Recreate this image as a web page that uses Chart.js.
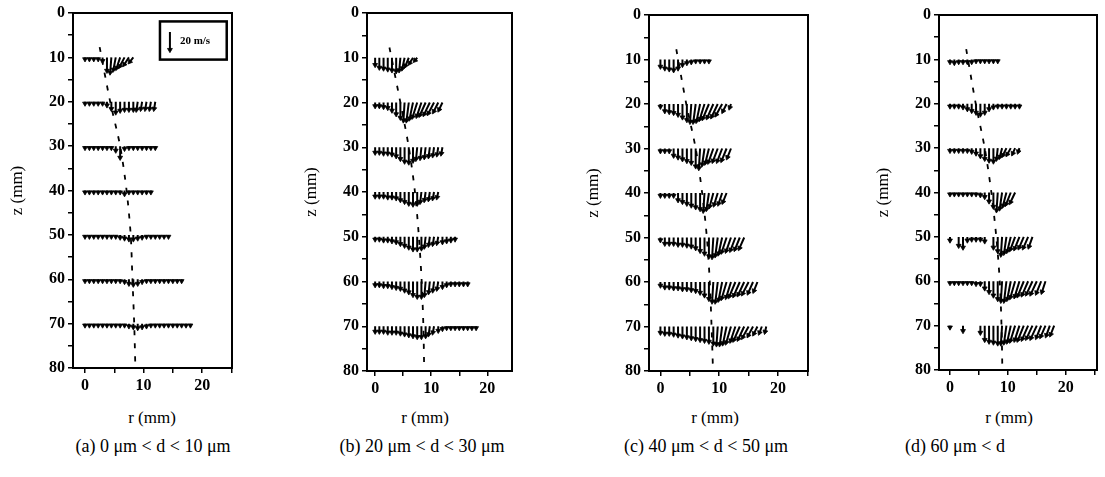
<!DOCTYPE html>
<html>
<head>
<meta charset="utf-8">
<script src="https://cdn.jsdelivr.net/npm/chart.js@4.4.1/dist/chart.umd.min.js"></script>
<style>
  html, body { margin: 0; padding: 0; background: #fff; }
  #fig { position: relative; width: 1105px; height: 477px; overflow: hidden; background: #fff;
         font-family: 'Liberation Serif', 'DejaVu Serif', 'Times New Roman', serif; color: #000; }
  #fig canvas { position: absolute; top: 0; }
  .rlabel, .caption { position: absolute; white-space: nowrap; transform: translate(-50%, -50%); }
  .rlabel { top: 418px; font-size: 17px; }
  .caption { top: 446px; font-size: 18px; }
</style>
</head>
<body>
<div id="fig">
  <canvas id="panelA"></canvas>
  <canvas id="panelB"></canvas>
  <canvas id="panelC"></canvas>
  <canvas id="panelD"></canvas>

  <div class="rlabel" style="left:152px">r (mm)</div>
  <div class="rlabel" style="left:425px">r (mm)</div>
  <div class="rlabel" style="left:715px">r (mm)</div>
  <div class="rlabel" style="left:1009px">r (mm)</div>

  <div class="caption" style="left:153px">(a) 0 μm &lt; d &lt; 10 μm</div>
  <div class="caption" style="left:422px">(b) 20 μm &lt; d &lt; 30 μm</div>
  <div class="caption" style="left:706px">(c) 40 μm &lt; d &lt; 50 μm</div>
  <div class="caption" style="left:955px">(d) 60 μm &lt; d</div>
</div>

<script>
/* ---------- measurement grid ---------- */
// radial measuring stations (mm) and axial measuring planes (mm)
const radialStations = [0, 0.75, 1.5, 2.25, 3, 3.75, 4.5, 5.25, 6, 6.75, 7.5, 8.25, 9,
  9.75, 10.5, 11.25, 12, 12.75, 13.5, 14.25, 15, 15.75, 16.5, 17.25, 18];
const rowLevels = [10, 20, 30, 40, 50, 60, 70];
const rTicks = [0, 5, 10, 15, 20, 25];
const zTicks = [0, 5, 10, 15, 20, 25, 30, 35, 40, 45, 50, 55, 60, 65, 70, 75, 80];

// vector scale : 20 m/s is drawn as 4 mm
const mmPerMs = 0.2;
const keyVelocity = 20;

/* ---------- droplet velocities (m/s), one list per plane ---------- */
// (a) 0 - 10 um
const axialA = [
  [2, 2, 2, 2, 4, 15, 17, 14, 12, 10, 8, 5],
  [2, 2, 2, 2, 2, 4, 8, 12, 10, 9, 9, 9, 9, 8, 8, 8, 8],
  [2, 2, 2, 2, 2, 2, 2, 5, 13, 3, 2, 2, 2, 2, 2, 2, 2],
  [2, 2, 2, 2, 2, 2, 2, 2, 2, 4, 2, 2, 2, 2, 2, 2],
  [2, 2, 2, 2, 2, 2, 2, 2, 3, 4, 5, 5, 4, 3, 2, 2, 2, 2, 2, 2],
  [2, 2, 2, 2, 2, 2, 2, 2, 2, 3, 5, 6, 5, 3, 2, 2, 2, 2, 2, 2, 2, 2, 2],
  [2, 2, 2, 2, 2, 2, 2, 2, 2, 2, 3, 4, 5, 4, 3, 2, 2, 2, 2, 2, 2, 2, 2, 2, 2]
];
const radialA = [
  [0, 0, 0, 0, 0, 0, -1, -2, -3, -4, -4, -3],
  [0, 0, 0, 0, 0, 0, 0, 0, 0, 0, 0, 0, -1, -1, -1, -1, -1],
  [0, 0, 0, 0, 0, 0, 0, 0, 0, 0, 0, 0, 0, 0, 0, 0, 0],
  [0, 0, 0, 0, 0, 0, 0, 0, 0, 0, 0, 0, 0, 0, 0, 0],
  [0, 0, 0, 0, 0, 0, 0, 0, 0, 0, 0, 0, 0, 0, 0, 0, 0, 0, 0, 0],
  [0, 0, 0, 0, 0, 0, 0, 0, 0, 0, 0, 0, 0, 0, 0, 0, 0, 0, 0, 0, 0, 0, 0],
  [0, 0, 0, 0, 0, 0, 0, 0, 0, 0, 0, 0, 0, 0, 0, 0, 0, 0, 0, 0, 0, 0, 0, 0, 0]
];

// (b) 20 - 30 um
const axialB = [
  [8, 11, 12, 13, 14, 15, 14, 12, 9, 6, 3],
  [4, 4, 5, 6, 9, 13, 17, 20, 20, 18, 16, 15, 14, 13, 12, 10, 8],
  [6, 6, 7, 7, 8, 10, 13, 16, 17, 15, 13, 12, 11, 10, 9, 8, 7],
  [5, 5, 5, 6, 6, 7, 9, 11, 13, 14, 13, 11, 9, 8, 7, 6],
  [3, 3, 4, 4, 5, 6, 8, 10, 12, 14, 14, 13, 11, 9, 8, 7, 6, 5, 4, 3],
  [4, 4, 5, 5, 6, 7, 8, 10, 12, 15, 17, 17, 15, 12, 10, 8, 6, 4, 3, 3, 3, 3, 3],
  [6, 6, 6, 7, 7, 7, 8, 9, 10, 11, 12, 12, 11, 9, 7, 5, 3, 2, 2, 2, 2, 2, 2, 2, 2]
];
const radialB = [
  [0, 0, 0, 0, 0, 0, -1, -2, -3, -3, -2],
  [0, 0, 0, 0, 0, 0, 0, -1, -2, -3, -4, -4, -5, -5, -5, -4, -3],
  [0, 0, 0, 0, 0, 0, 0, 0, 0, 0, -1, -1, -1, -1, -1, -1, -1],
  [0, 0, 0, 0, 0, 0, 0, 0, 0, 0, 0, -1, -1, -1, -1, -1],
  [0, 0, 0, 0, 0, 0, 0, 0, 0, 0, 0, 0, -1, -1, -1, -1, 0, 0, 0, 0],
  [0, 0, 0, 0, 0, 0, 0, 0, 0, 0, 0, 0, -1, -1, -1, -1, 0, 0, 0, 0, 0, 0, 0],
  [0, 0, 0, 0, 0, 0, 0, 0, 0, 0, 0, 0, 0, -1, -1, 0, 0, 0, 0, 0, 0, 0, 0, 0, 0]
];

// (c) 40 - 50 um
const axialC = [
  [8, 10, 11, 12, 10, 6, 4, 3, 2, 2, 2, 2],
  [3, 8, 9, 10, 12, 15, 18, 20, 20, 19, 17, 16, 15, 14, 12, 8, 4],
  [3, 3, 3, 8, 10, 12, 14, 16, 20, 22, 18, 16, 15, 14, 14, 13, 10],
  [3, 3, 3, 3, 8, 10, 12, 14, 16, 18, 20, 18, 15, 13, 12, 10],
  [3, 7, 7, 7, 8, 8, 9, 10, 12, 15, 18, 21, 22, 20, 18, 16, 15, 14, 13, 12],
  [4, 6, 6, 7, 7, 8, 8, 9, 10, 12, 15, 19, 22, 22, 20, 18, 17, 16, 15, 14, 13, 12, 10],
  [7, 8, 8, 9, 10, 11, 12, 13, 14, 15, 16, 17, 19, 20, 20, 19, 18, 16, 15, 14, 12, 10, 8, 7, 6]
];
const radialC = [
  [0, 0, 0, 0, 0, 0, 0, 0, 0, 0, 0, 0],
  [0, 0, 0, 0, 0, 0, 0, -1, -2, -3, -4, -5, -5, -5, -5, -3, -1],
  [0, 0, 0, 0, 0, 0, 0, 0, 0, -1, -2, -3, -4, -4, -4, -4, -3],
  [0, 0, 0, 0, 0, 0, 0, 0, 0, 0, -1, -2, -3, -3, -3, -3],
  [0, 0, 0, 0, 0, 0, 0, 0, 0, 0, 0, 0, -1, -2, -3, -4, -4, -4, -4, -4],
  [0, 0, 0, 0, 0, 0, 0, 0, 0, 0, 0, 0, -1, -2, -3, -4, -4, -5, -5, -5, -5, -4, -3],
  [0, 0, 0, 0, 0, 0, 0, 0, 0, 0, 0, 0, 0, -1, -2, -3, -4, -4, -5, -5, -5, -4, -3, -2, -1]
];

// (d) above 60 um  (null = no droplets validated at that station)
const axialD = [
  [3, 4, 3, 3, 3, 3, 2, 2, 2, 2, 2, 2],
  [3, 3, 3, 4, 6, 8, 10, 12, 10, 6, 4, 3, 3, 3, 3, 3, 3],
  [3, 3, 3, 3, 3, 4, 6, 9, 12, 14, 15, 12, 10, 8, 7, 6, 4],
  [2, 2, 2, 2, 2, 2, 2, 3, 5, 10, 16, 20, 18, 15, 13, 11],
  [4, null, 10, 12, 4, 3, 3, 3, 5, null, 12, 16, 20, 18, 16, 14, 13, 12, 12, 11],
  [2, 2, 2, 2, 2, 2, 3, 3, 8, 12, 16, 20, 22, 22, 20, 18, 17, 16, 15, 14, 14, 13, 12],
  [2, null, null, 6, null, null, null, 8, 16, 18, 19, 20, 20, 19, 18, 17, 16, 16, 15, 14, 14, 13, 12, 11, 10]
];
const radialD = [
  [0, 0, 0, 0, 0, 0, 0, 0, 0, 0, 0, 0],
  [0, 0, 0, 0, 0, 0, 0, 0, 0, 0, 0, 0, 0, 0, 0, 0, 0],
  [0, 0, 0, 0, 0, 0, 0, 0, 0, 0, 0, -1, -2, -3, -3, -2, -1],
  [0, 0, 0, 0, 0, 0, 0, 0, 0, 0, 0, -1, -2, -3, -4, -4],
  [0, 0, 0, 0, 0, 0, 0, 0, 0, 0, 0, 0, -1, -2, -3, -4, -4, -4, -4, -3],
  [0, 0, 0, 0, 0, 0, 0, 0, 0, 0, 0, 0, -1, -2, -3, -4, -4, -5, -5, -5, -5, -4, -3],
  [0, 0, 0, 0, 0, 0, 0, 0, 0, 0, 0, 0, -1, -2, -3, -4, -4, -5, -5, -5, -5, -4, -4, -3, -3]
];

/* ---------- spray centreline (dashed) ---------- */
const centreZ = [7.7, 20, 30, 40, 50, 60, 70, 80];
const centreRA = [2.5, 4.3, 6.0, 7.1, 7.8, 8.1, 8.4, 8.6];
const centreRB = [2.55, 4.5, 6.0, 7.1, 7.8, 8.3, 8.6, 8.75];
const centreRC = [2.7, 4.4, 6.0, 7.1, 7.9, 8.4, 8.7, 8.95];
const centreRD = [2.8, 4.45, 6.0, 7.15, 8.0, 8.6, 8.9, 9.05];

/* ---------- helpers ---------- */
const SERIF = "'Liberation Serif', 'DejaVu Serif', 'Times New Roman', serif";
const Y_AXIS_W = 73;
const PAD_R = 8;
const CANVAS_H = 400;

// tail / head / gap triplets, so one line dataset draws all arrows
function vectorPoints(axial, radial) {
  const pts = [];
  rowLevels.forEach((z, j) => {
    axial[j].forEach((w, i) => {
      if (w === null) return;
      const r = radialStations[i];
      pts.push({x: r, y: z});
      pts.push({x: r + radial[j][i] * mmPerMs, y: z + w * mmPerMs, head: true});
      pts.push({x: null, y: null});
    });
  });
  return pts;
}

function arrowDataset(points) {
  const headSize = ctx => (ctx.raw && ctx.raw.head) ? 2.8 : 0;
  return {
    data: points,
    showLine: true,
    spanGaps: false,
    borderColor: '#000',
    borderWidth: 2,
    pointStyle: 'triangle',
    pointBackgroundColor: '#000',
    pointBorderColor: '#000',
    pointBorderWidth: 0.8,
    pointRadius: headSize,
    pointHoverRadius: headSize,
    pointRotation: ctx => {
      const p = ctx.raw;
      if (!p || !p.head) return 0;
      const t = ctx.dataset.data[ctx.dataIndex - 1];
      const xs = ctx.chart.scales.x, ys = ctx.chart.scales.y;
      const dx = xs.getPixelForValue(p.x) - xs.getPixelForValue(t.x);
      const dy = ys.getPixelForValue(p.y) - ys.getPixelForValue(t.y);
      return Math.atan2(dx, -dy) * 180 / Math.PI;
    },
    order: 1
  };
}

// closes the box on top and right
const framePlugin = {
  id: 'frame',
  afterDraw(chart) {
    const {ctx, chartArea: a} = chart;
    ctx.save();
    ctx.strokeStyle = '#000';
    ctx.lineWidth = 2;
    ctx.strokeRect(a.left, a.top, a.right - a.left, a.bottom - a.top);
    ctx.restore();
  }
};

// velocity key box ("20 m/s")
const keyPlugin = {
  id: 'velocityKey',
  afterDatasetsDraw(chart, args, opts) {
    if (!opts || !opts.show) return;
    const xs = chart.scales.x, ys = chart.scales.y, ctx = chart.ctx;
    const x0 = xs.getPixelForValue(opts.r0), x1 = xs.getPixelForValue(opts.r1);
    const y0 = ys.getPixelForValue(opts.z0), y1 = ys.getPixelForValue(opts.z1);
    ctx.save();
    ctx.strokeStyle = '#000';
    ctx.lineWidth = 2.5;
    ctx.strokeRect(x0, y0, x1 - x0, y1 - y0);
    ctx.fillStyle = '#000';
    ctx.font = 'bold 11px ' + SERIF;
    ctx.textBaseline = 'middle';
    ctx.fillText(opts.label, xs.getPixelForValue(opts.labelR), ys.getPixelForValue(opts.labelZ));
    ctx.restore();
  }
};

const panels = [
  {canvas: 'panelA', left: 0, plotW: 159, top: 13, bottom: 368, rMin: -2.05, rMax: 25.1,
   axial: axialA, radial: radialA, centreR: centreRA, key: true},
  {canvas: 'panelB', left: 294, plotW: 145, top: 13, bottom: 371, rMin: -1.45, rMax: 24.4,
   axial: axialB, radial: radialB, centreR: centreRB, key: false},
  {canvas: 'panelC', left: 576, plotW: 159, top: 15, bottom: 371, rMin: -1.94, rMax: 25.1,
   axial: axialC, radial: radialC, centreR: centreRC, key: false},
  {canvas: 'panelD', left: 866, plotW: 158, top: 15, bottom: 370, rMin: -1.9, rMax: 25.4,
   axial: axialD, radial: radialD, centreR: centreRD, key: false}
];

panels.forEach(p => {
  const el = document.getElementById(p.canvas);
  el.width = Y_AXIS_W + p.plotW + PAD_R;
  el.height = CANVAS_H;
  el.style.left = p.left + 'px';

  const datasets = [
    arrowDataset(vectorPoints(p.axial, p.radial)),
    {
      data: p.centreR.map((r, i) => ({x: r, y: centreZ[i]})),
      showLine: true,
      borderColor: '#000',
      borderWidth: 1.8,
      borderDash: [5, 8],
      tension: 0.3,
      pointRadius: 0,
      order: 2
    }
  ];
  if (p.key) {
    // reference arrow of the key
    datasets.push(arrowDataset([{x: 14.5, y: 4.3}, {x: 14.5, y: 4.3 + keyVelocity * mmPerMs, head: true}]));
  }

  new Chart(el, {
    type: 'scatter',
    data: {datasets},
    options: {
      responsive: false,
      animation: false,
      events: [],
      layout: {padding: {top: p.top, right: PAD_R, left: 0, bottom: 0}},
      plugins: {
        legend: {display: false},
        tooltip: {enabled: false},
        velocityKey: {show: p.key, r0: 12.8, r1: 24.2, z0: 1.9, z1: 10.5,
                      label: keyVelocity + ' m/s', labelR: 16.2, labelZ: 6.3}
      },
      scales: {
        x: {
          type: 'linear',
          min: p.rMin,
          max: p.rMax,
          afterBuildTicks: s => { s.ticks = rTicks.filter(v => v <= p.rMax).map(v => ({value: v})); },
          afterFit: s => { s.height = CANVAS_H - p.bottom; },
          ticks: {
            autoSkip: false,
            maxRotation: 0,
            padding: 3,
            color: '#000',
            font: {family: SERIF, size: 16, weight: 'bold'},
            callback: v => (v % 10 === 0 ? String(v) : '')
          },
          grid: {display: true, drawOnChartArea: false, drawTicks: true, tickLength: 5,
                 color: '#000', lineWidth: 1.5},
          border: {display: true, color: '#000', width: 2}
        },
        y: {
          type: 'linear',
          reverse: true,
          min: 0,
          max: 80,
          afterBuildTicks: s => { s.ticks = zTicks.map(v => ({value: v})); },
          afterFit: s => { s.width = Y_AXIS_W; },
          title: {display: true, text: 'z (mm)', color: '#000',
                  font: {family: SERIF, size: 17}, padding: {top: 7, bottom: 0}},
          ticks: {
            autoSkip: false,
            padding: 3,
            color: '#000',
            font: {family: SERIF, size: 16, weight: 'bold'},
            callback: v => (v % 10 === 0 ? String(v) : '')
          },
          grid: {display: true, drawOnChartArea: false, drawTicks: true, tickLength: 5,
                 color: '#000', lineWidth: 1.5},
          border: {display: true, color: '#000', width: 2}
        }
      }
    },
    plugins: [framePlugin, keyPlugin]
  });
});
</script>
</body>
</html>
